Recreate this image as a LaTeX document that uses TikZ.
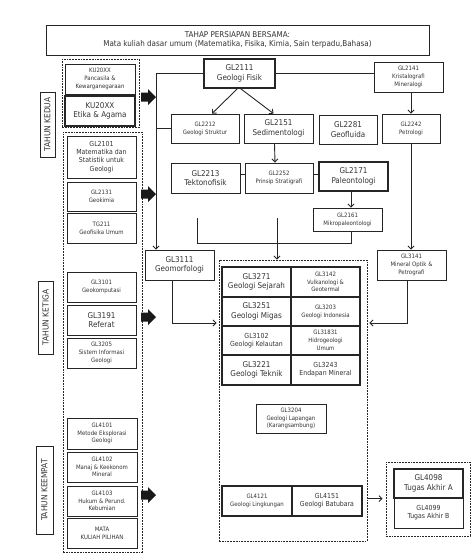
\documentclass[tikz,border=0pt]{standalone}
\usepackage{fontspec}
\setmainfont{DejaVu Sans Condensed}
\usetikzlibrary{arrows.meta}
\newcommand\flarge{\fontsize{8.0}{9.4}\selectfont}
\newcommand\fmed{\fontsize{6.9}{8.2}\selectfont}
\newcommand\fsmall{\fontsize{6.0}{7.8}\selectfont}
\newcommand\ftop{\fontsize{8.0}{9.6}\selectfont}
\newcommand\fyear{\fontsize{8.3}{9}\selectfont}
\newcommand\mybox[7]{\node[box,#6,minimum width={#4-#2},minimum height={#5-#3}] (#1) at ({(#2+#4)/2},{(#3+#5)/2}) {#7};}
\newcommand\blockarr[1]{\fill[black!90] (141,{#1-4.5}) -- (148,{#1-4.5}) -- (148,{#1-8}) -- (156,#1) -- (148,{#1+8}) -- (148,{#1+4.5}) -- (141,{#1+4.5}) -- cycle;}
\tikzset{
  box/.style={draw=black!85, line width=0.9pt, inner sep=0pt, align=center, text=black!80, font=\fsmall},
  big/.style={font=\flarge},
  med/.style={font=\fmed},
  heavy/.style={line width=1.2pt},
  dbox/.style={draw=black!85, line width=0.9pt, dash pattern=on 1.8pt off 1pt},
  conn/.style={draw=black!85, line width=0.9pt},
  arr/.style={conn, -{Straight Barb[length=3pt,width=6pt]}},
  yr/.style={draw=black!85, line width=0.9pt, inner sep=0pt, rotate=90, text=black!80, font=\fyear}
}
\begin{document}
\begin{tikzpicture}[x=1pt,y=-1pt]
\useasboundingbox[fill=white] (0,0) rectangle (474,558);
% top box
\mybox{top}{46}{25}{429}{55}{font=\ftop}{TAHAP PERSIAPAN BERSAMA:\\Mata kuliah dasar umum (Matematika, Fisika, Kimia, Sain terpadu,Bahasa)}
% dashed groups
\node[dbox, minimum width=77, minimum height=68] (g1) at (100.5,93) {};
\node[dbox, minimum width=79, minimum height=420] (g2) at (102.5,342) {};
\node[dbox, minimum width=148, minimum height=281] (bigbox) at (293,400.5) {};
\node[dbox, minimum width=84, minimum height=74] (rbox) at (428,499) {};
% year labels
\node[yr, minimum width=65, minimum height=15] (yr1) at (47.5,124.5) {TAHUN KEDUA};
\node[yr, minimum width=73, minimum height=15] (yr2) at (45.5,317.5) {TAHUN KETIGA};
\node[yr, minimum width=88, minimum height=17] (yr3) at (44.5,490) {TAHUN KEEMPAT};
% left column
\mybox{ku1}{65}{64}{135}{94}{}{KU20XX\\Pancasila \&\\Kewarganegaraan}
\mybox{ku2}{65}{96}{135}{126}{big,heavy}{KU20XX\\Etika \& Agama}
\mybox{gl2101}{67}{136}{136}{178}{med}{GL2101\\Matematika dan\\Statistik untuk\\Geologi}
\mybox{gl2131}{67}{182}{136}{211}{}{GL2131\\Geokimia}
\mybox{tg211}{67}{213}{136}{243}{}{TG211\\Geofisika Umum}
\mybox{gl3101}{67}{272}{136}{302}{}{GL3101\\Geokomputasi}
\mybox{gl3191}{67}{305}{136}{335}{big}{GL3191\\Referat}
\mybox{gl3205}{67}{338}{136}{368}{}{GL3205\\Sistem Informasi\\Geologi}
\mybox{gl4101}{67}{418}{137}{449}{}{GL4101\\Metode Eksplorasi\\Geologi}
\mybox{gl4102}{67}{452}{137}{482}{}{GL4102\\Manaj \& Keekonom\\Mineral}
\mybox{gl4103}{67}{486}{137}{516}{}{GL4103\\Hukum \& Perund.\\Kebumian}
\mybox{mata}{67}{518}{137}{548}{}{MATA\\KULIAH PILIHAN}
% block arrows
\blockarr{97}
\blockarr{194}
\blockarr{317}
\blockarr{495}
% second year courses
\mybox{gl2111}{204}{59}{275}{88}{big,heavy}{GL2111\\Geologi Fisik}
\mybox{gl2141}{374}{62}{443}{92}{}{GL2141\\Kristalografi\\Mineralogi}
\mybox{gl2212}{171}{114}{239}{143}{}{GL2212\\Geologi Struktur}
\mybox{gl2151}{244}{114}{313}{143}{big}{GL2151\\Sedimentologi}
\mybox{gl2281}{319}{115}{377}{144}{big}{GL2281\\Geofluida}
\mybox{gl2242}{382}{114}{440}{143}{}{GL2242\\Petrologi}
\mybox{gl2213}{171}{163}{240}{193}{big}{GL2213\\Tektonofisik}
\mybox{gl2252}{245}{163}{313}{193}{}{GL2252\\Prinsip Stratigrafi}
\mybox{gl2171}{319}{162}{388}{191}{big,heavy}{GL2171\\Paleontologi}
\mybox{gl2161}{313}{208}{382}{231}{}{GL2161\\Mikropaleontologi}
\mybox{gl3111}{145}{250}{214}{280}{big}{GL3111\\Geomorfologi}
\mybox{gl3141}{377}{250}{446}{280}{}{GL3141\\Mineral Optik \&\\Petrografi}
% grid
\mybox{gl3271}{222}{267}{291}{297}{big,heavy}{GL3271\\Geologi Sejarah}
\mybox{gl3142}{291}{267}{360}{297}{heavy}{GL3142\\Vulkanologi \&\\Geotermal}
\mybox{gl3251}{222}{297}{291}{326}{big,heavy}{GL3251\\Geologi Migas}
\mybox{gl3203}{291}{297}{360}{326}{heavy}{GL3203\\Geologi Indonesia}
\mybox{gl3102}{222}{326}{291}{355}{med,heavy}{GL3102\\Geologi Kelautan}
\mybox{gl31831}{291}{326}{360}{355}{heavy}{GL31831\\Hidrogeologi\\Umum}
\mybox{gl3221}{222}{355}{291}{385}{big,heavy}{GL3221\\Geologi Teknik}
\mybox{gl3243}{291}{355}{360}{385}{med,heavy}{GL3243\\Endapan Mineral}
\mybox{gl3204}{256}{404}{326}{433}{}{GL3204\\Geologi Lapangan\\(Karangsambung)}
\mybox{gl4121}{222}{486}{292}{516}{heavy}{GL4121\\Geologi Lingkungan}
\mybox{gl4151}{292}{486}{362}{516}{med,heavy}{GL4151\\Geologi Batubara}
\mybox{gl4098}{394}{469}{463}{498}{big,heavy}{GL4098\\Tugas Akhir A}
\mybox{gl4099}{394}{498}{463}{528}{med}{GL4099\\Tugas Akhir B}
% connectors
\coordinate (vtop) at (156,73.5);
\draw[conn] (gl2111.west) -- (vtop);
\draw[arr] (vtop) -- (vtop |- gl3111.north);
\draw[conn] (gl2212.west) -- (gl2212.west -| vtop);
\draw[conn] (gl2111.east) -- (gl2111.east -| gl2141.west);
\draw[arr] ([xshift=-2pt]gl2111.south) -- ([xshift=7pt]gl2212.north);
\draw[arr] ([xshift=1pt]gl2111.south) -- ([xshift=-5pt]gl2151.north);
\draw[arr] (gl2242.north |- gl2141.south) -- (gl2242.north);
\draw[arr] ([xshift=-4pt]gl2151.south) -- ([xshift=-4pt]gl2252.north);
\draw[conn] ([yshift=4pt]gl2213.east) -- ([yshift=4pt]gl2213.east -| gl2252.west);
\draw[conn] ([yshift=4pt]gl2252.east) -- ([yshift=4pt]gl2252.east -| gl2171.west);
\coordinate (pm) at (351,200);
\draw[arr] (pm |- gl2171.south) -- (pm |- gl2161.north);
\coordinate (bl) at (197,218);
\coordinate (bc) at (277,218);
\coordinate (br) at (351,243);
\draw[conn] (bl) |- (br) -- (br |- gl2161.south);
\draw[arr] (bc) -- (bc |- bigbox.north);
\draw[arr] (gl2242.south) -- (gl2242.south |- gl3141.north);
\coordinate (jl) at (172,323);
\coordinate (jr) at (407,323);
\draw[arr] (gl3111.south -| jl) -- (jl) -- ([xshift=-2pt]jl -| bigbox.west);
\draw[arr] (gl3141.south -| jr) -- (jr) -- ([xshift=2pt]jr -| bigbox.east);
\draw[arr] (gl4098.south -| bigbox.east) -- ([xshift=-3pt]gl4098.south -| rbox.west);
\end{tikzpicture}
\end{document}
